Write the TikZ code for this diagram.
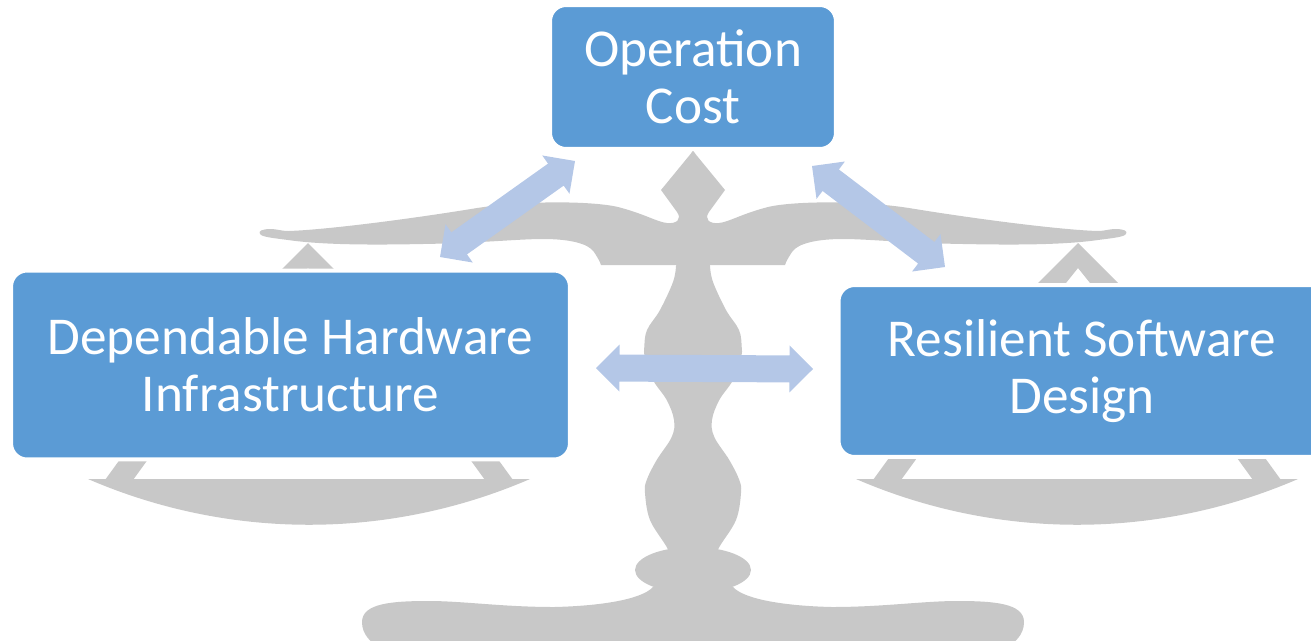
\documentclass[tikz,border=0pt]{standalone}
\usepackage{fontspec}
\setmainfont{Carlito}
\usetikzlibrary{calc}
\definecolor{boxblue}{HTML}{5B9BD5}
\definecolor{arrowblue}{HTML}{B4C7E7}
\definecolor{scalegray}{HTML}{C8C8C8}

% double-headed block arrow between two named coordinates
\newcommand{\twowayarrow}[2]{%
  \coordinate (ha) at ($(#1)!0.47cm!(#2)$);
  \coordinate (hb) at ($(#2)!0.47cm!(#1)$);
  \fill[linkarrow] (#1)
    -- ($(ha)!0.47cm!90:(#2)$)
    -- ($(ha)!0.27cm!90:(#2)$)
    -- ($(hb)!0.27cm!-90:(#1)$)
    -- ($(hb)!0.47cm!-90:(#1)$)
    -- (#2)
    -- ($(hb)!0.47cm!90:(#1)$)
    -- ($(hb)!0.27cm!90:(#1)$)
    -- ($(ha)!0.27cm!-90:(#2)$)
    -- ($(ha)!0.47cm!-90:(#2)$)
    -- cycle;}

\begin{document}
\begin{tikzpicture}[x=0.02cm, y=-0.02cm,
  scalepart/.style={fill=scalegray},
  linkarrow/.style={fill=arrowblue},
  topicbox/.style={rectangle, rounded corners=0.32cm, fill=boxblue,
    draw=white, line width=0.08cm, text=white, align=center,
    inner sep=0pt, font=\fontsize{30.3pt}{32.4pt}\selectfont}]
\useasboundingbox (0,0) rectangle (1311,640);
\clip (0,0) rectangle (1311,640);

% ---- balance scale ----
% pans with their legs
\foreach \cx in {309,1077} {
  \fill[scalepart] (\cx-221,479) .. controls (\cx-80,540) and (\cx+80,540) .. (\cx+221,479) -- cycle;
  \fill[scalepart] (\cx-175,440) -- (\cx-147,440) -- (\cx-176,480) -- (\cx-204,480) -- cycle;
  \fill[scalepart] (\cx+147,440) -- (\cx+175,440) -- (\cx+204,480) -- (\cx+176,480) -- cycle;
}
% hangers under the beam ends
\foreach \cx in {308,1078} {
  \fill[scalepart] (\cx,243) -- (\cx+60,303) -- (\cx+28,303) -- (\cx,268)
    -- (\cx-28,303) -- (\cx-60,303) -- cycle;
}
% beam, finial and column (two mirrored halves)
\foreach \s in {1,-1} {
\begin{scope}[shift={(693,0)}, xscale=\s]
  \fill[scalepart] (2,153.4) -- (0,151) -- (-32,190) -- (-16,212)
    .. controls (-11,219) and (-16,224) .. (-26,223)
    .. controls (-36,222) and (-48,214) .. (-75,207)
    .. controls (-100,201) and (-170,200) .. (-222,209)
    .. controls (-290,220) and (-370,230) .. (-405,231)
    .. controls (-412,231) and (-416,229) .. (-422,229)
    .. controls (-431,229) and (-435,231) .. (-433,234)
    .. controls (-431,237) and (-420,238) .. (-405,240)
    .. controls (-370,245) and (-320,245) .. (-270,244)
    .. controls (-210,243) and (-175,239) .. (-150,239)
    .. controls (-125,239) and (-105,243) .. (-99,252)
    .. controls (-95,258) and (-93,262) .. (-92,265)
    -- (-16.5,265)
    -- plot[smooth, tension=0.6] coordinates {(-17,266) (-20,282) (-33,310)
        (-46,330) (-48.7,347) (-48,357) (-40,380) (-26.3,400) (-19,420)
        (-21.3,437) (-36.3,460) (-46.3,480) (-48,493) (-43,520) (-26.3,547)
        (-20,562)}
    -- (2,562) -- cycle;
  % foot
  \fill[scalepart] (-40,587) .. controls (-52,600) and (-95,606) .. (-139,607)
    .. controls (-190,607) and (-230,601) .. (-264,601)
    .. controls (-300,601) and (-331,603) .. (-331,622)
    .. controls (-331,635) and (-322,642) .. (-312,650)
    -- (2,650) -- (2,580) -- cycle;
\end{scope}
}
% knob between column and foot
\fill[scalepart] (693,570) ellipse [x radius=1.16cm, y radius=0.46cm];

% ---- topics ----
\node[topicbox, minimum width=5.72cm, minimum height=2.88cm] (cost) at (693,77)
  {Operation\\Cost};
\node[topicbox, minimum width=11.18cm, minimum height=3.78cm] (hw) at (290.5,365)
  {Dependable Hardware\\Infrastructure};
\node[topicbox, minimum width=9.74cm, minimum height=3.44cm] (sw) at (1082,371)
  {Resilient Software\\Design};

% ---- trade-off arrows ----
\coordinate (hwTop)    at (440,257);
\coordinate (costLeft) at (575,161);
\coordinate (costRight) at (812,166);
\coordinate (swTop)    at (945,267);
\coordinate (hwSide)   at (596,368);
\coordinate (swSide)   at (813,369);
\twowayarrow{hwTop}{costLeft}
\twowayarrow{costRight}{swTop}
\twowayarrow{hwSide}{swSide}
\end{tikzpicture}
\end{document}
